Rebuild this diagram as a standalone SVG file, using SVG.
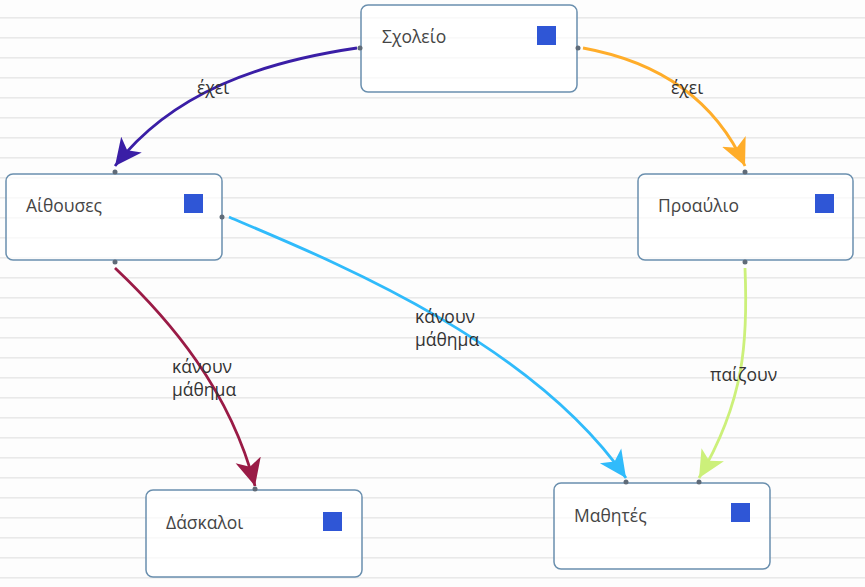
<svg xmlns="http://www.w3.org/2000/svg" width="865" height="587" viewBox="0 0 865 587">
<defs>
<pattern id="lines" x="0" y="0" width="865" height="20" patternUnits="userSpaceOnUse">
<rect x="0" y="17" width="865" height="1.6" fill="#e9e9e9"/>
</pattern>
<marker id="mPurple" markerUnits="userSpaceOnUse" markerWidth="32" markerHeight="32" refX="27" refY="13" orient="auto" viewBox="0 0 32 26"><path d="M27,13 L0,0 L7,13 L0,26 Z" fill="#3a1ea6"/></marker>
<marker id="mOrange" markerUnits="userSpaceOnUse" markerWidth="32" markerHeight="32" refX="27" refY="13" orient="auto" viewBox="0 0 32 26"><path d="M27,13 L0,0 L7,13 L0,26 Z" fill="#ffad2a"/></marker>
<marker id="mMaroon" markerUnits="userSpaceOnUse" markerWidth="32" markerHeight="32" refX="27" refY="13" orient="auto" viewBox="0 0 32 26"><path d="M27,13 L0,0 L7,13 L0,26 Z" fill="#9a1b46"/></marker>
<marker id="mBlue" markerUnits="userSpaceOnUse" markerWidth="32" markerHeight="32" refX="27" refY="13" orient="auto" viewBox="0 0 32 26"><path d="M27,13 L0,0 L7,13 L0,26 Z" fill="#30bbfb"/></marker>
<marker id="mGreen" markerUnits="userSpaceOnUse" markerWidth="32" markerHeight="32" refX="27" refY="13" orient="auto" viewBox="0 0 32 26"><path d="M27,13 L0,0 L7,13 L0,26 Z" fill="#ccf07a"/></marker>
</defs>
<style>
.node rect.box{fill:#ffffff;fill-opacity:0.72;stroke:#6a8fae;stroke-width:1.5}
.node rect.sq{fill:#2f56d6}
.node text{font-family:"Open Sans","Liberation Sans",Arial,sans-serif;font-size:17.5px;fill:#454545}
.edge{fill:none;stroke-width:2.8}
.lbl{font-family:"Open Sans","Liberation Sans",Arial,sans-serif;font-size:17.5px;fill:#333333}
.dot{fill:#5f6b78}
</style>
<rect width="865" height="587" fill="#fdfdfd"/>
<rect width="865" height="587" fill="url(#lines)"/>

<g id="connectors">
<path class="edge" stroke="#3a1ea6" d="M357,48 C262,62 172,92 115,166" marker-end="url(#mPurple)"/>
<path class="edge" stroke="#ffad2a" d="M583,48 C660,62 715,100 745,166" marker-end="url(#mOrange)"/>
<path class="edge" stroke="#9a1b46" d="M115,268 C170,320 230,390 255,486" marker-end="url(#mMaroon)"/>
<path class="edge" stroke="#30bbfb" d="M229,217 C330,260 530,340 626,478" marker-end="url(#mBlue)"/>
<path class="edge" stroke="#ccf07a" d="M745,268 C748,340 745,400 699,478" marker-end="url(#mGreen)"/>
<text class="lbl" x="213" y="94" text-anchor="middle">έχει</text>
<text class="lbl" x="687" y="94" text-anchor="middle">έχει</text>
<text class="lbl" x="172" y="373">κάνουν</text>
<text class="lbl" x="172" y="396">μάθημα</text>
<text class="lbl" x="415" y="323">κάνουν</text>
<text class="lbl" x="415" y="346">μάθημα</text>
<text class="lbl" x="710" y="381">παίζουν</text>
</g>

<g id="node-sxoleio" class="node">
<rect class="box" x="361" y="5" width="216" height="87" rx="7"/>
<rect class="sq" x="537" y="26" width="19" height="19"/>
<text x="382" y="43">Σχολείο</text>
<circle class="dot" cx="360" cy="48" r="2.5"/>
<circle class="dot" cx="578" cy="48" r="2.5"/>
</g>

<g id="node-aithouses" class="node">
<rect class="box" x="6" y="174" width="216" height="86" rx="7"/>
<rect class="sq" x="184" y="194" width="19" height="19"/>
<text x="26" y="212">Αίθουσες</text>
<circle class="dot" cx="115" cy="172" r="2.5"/>
<circle class="dot" cx="115" cy="262" r="2.5"/>
<circle class="dot" cx="222" cy="217" r="2.5"/>
</g>

<g id="node-proaulio" class="node">
<rect class="box" x="638" y="174" width="215" height="86" rx="7"/>
<rect class="sq" x="815" y="194" width="19" height="19"/>
<text x="658" y="212">Προαύλιο</text>
<circle class="dot" cx="745" cy="172" r="2.5"/>
<circle class="dot" cx="745" cy="262" r="2.5"/>
</g>

<g id="node-daskaloi" class="node">
<rect class="box" x="146" y="490" width="216" height="87" rx="7"/>
<rect class="sq" x="323" y="512" width="19" height="19"/>
<text x="166" y="529">Δάσκαλοι</text>
<circle class="dot" cx="255" cy="489" r="2.5"/>
</g>

<g id="node-mathites" class="node">
<rect class="box" x="554" y="483" width="216" height="86" rx="7"/>
<rect class="sq" x="731" y="503" width="19" height="19"/>
<text x="574" y="522">Μαθητές</text>
<circle class="dot" cx="626" cy="482" r="2.5"/>
<circle class="dot" cx="699" cy="482" r="2.5"/>
</g>
</svg>
